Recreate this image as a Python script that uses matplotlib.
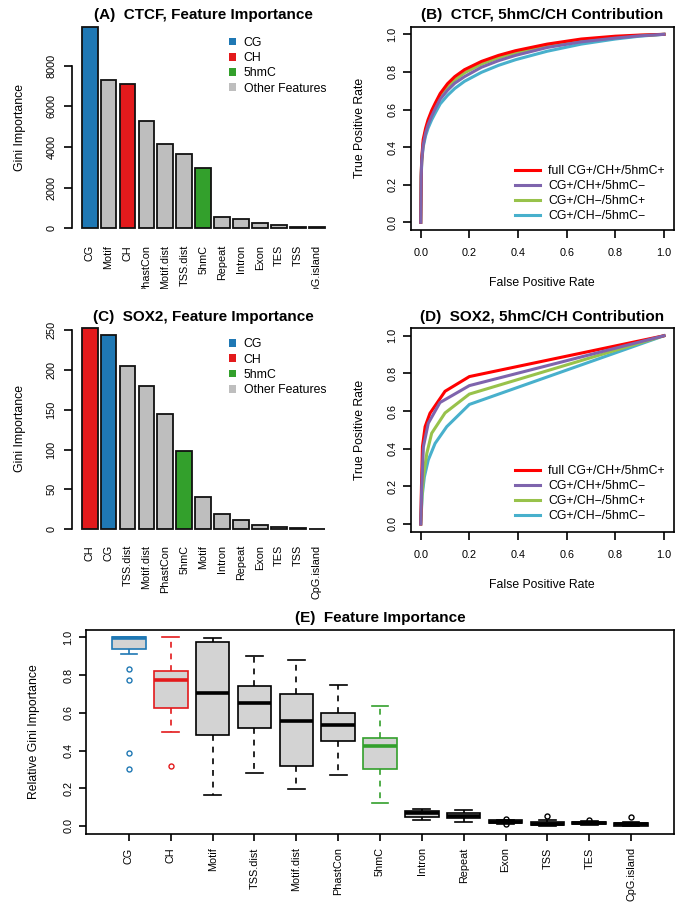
import numpy as np
import matplotlib
matplotlib.use("Agg")
import matplotlib.pyplot as plt
from matplotlib.patches import Patch, Rectangle
from matplotlib.lines import Line2D
from matplotlib.transforms import Affine2D

plt.rcParams["font.family"] = ["Liberation Sans", "DejaVu Sans"]

# ---------------------------------------------------------
# DATA
# ---------------------------------------------------------
ctcf_features = ["CG", "Motif", "CH", "PhastCon", "Motif.dist", "TSS.dist", "5hmC",
                 "Repeat", "Intron", "Exon", "TES", "TSS", "CpG.island"]
ctcf_gini = [9920, 7280, 7100, 5280, 4130, 3670, 2980, 556, 458, 276, 148, 79, 49]

sox2_features = ["CH", "CG", "TSS.dist", "Motif.dist", "PhastCon", "5hmC", "Motif",
                 "Intron", "Repeat", "Exon", "TES", "TSS", "CpG.island"]
sox2_gini = [252.1, 243.7, 205.2, 180.0, 144.6, 98.2, 40.5, 18.8, 11.7, 5.0, 2.9, 1.7, 0.6]

roc_labels = ["full CG+/CH+/5hmC+", "CG+/CH+/5hmC\u2212", "CG+/CH\u2212/5hmC+", "CG+/CH\u2212/5hmC\u2212"]
roc_colors = ["#ff0000", "#7e64ad", "#98c24b", "#48b0cc"]

# CTCF ROC (smooth curves)
ctcf_fpr = [0, 0.002, 0.004, 0.01, 0.02, 0.03, 0.045, 0.06, 0.08, 0.11, 0.14, 0.18,
            0.25, 0.32, 0.39, 0.52, 0.66, 0.8, 0.9, 1.0]
ctcf_tpr_full = [0, 0.25, 0.34, 0.44, 0.50, 0.545, 0.595, 0.635, 0.685, 0.737, 0.775, 0.812,
                 0.856, 0.888, 0.913, 0.948, 0.975, 0.99, 0.996, 1.0]
ctcf_tpr_no5hmc = [0, 0.24, 0.33, 0.41, 0.475, 0.518, 0.565, 0.605, 0.655, 0.702, 0.74, 0.775,
                   0.825, 0.86, 0.888, 0.93, 0.96, 0.98, 0.992, 1.0]
ctcf_tpr_noch = [0, 0.24, 0.33, 0.42, 0.485, 0.532, 0.58, 0.62, 0.67, 0.718, 0.757, 0.795,
                 0.842, 0.875, 0.902, 0.94, 0.968, 0.985, 0.994, 1.0]
ctcf_tpr_none = [0, 0.23, 0.32, 0.40, 0.46, 0.50, 0.545, 0.582, 0.63, 0.675, 0.712, 0.75,
                 0.798, 0.835, 0.865, 0.91, 0.948, 0.975, 0.99, 1.0]

# SOX2 ROC (piecewise)
sox2_fpr_full = [0, 0.003, 0.007, 0.018, 0.038, 0.1, 0.2, 1.0]
sox2_tpr_full = [0, 0.2, 0.41, 0.517, 0.588, 0.705, 0.783, 1.0]
sox2_fpr_no5hmc = [0, 0.004, 0.011, 0.031, 0.079, 0.2, 1.0]
sox2_tpr_no5hmc = [0, 0.2, 0.41, 0.535, 0.645, 0.735, 1.0]
sox2_fpr_noch = [0, 0.005, 0.011, 0.025, 0.045, 0.1, 0.2, 1.0]
sox2_tpr_noch = [0, 0.15, 0.25, 0.375, 0.482, 0.59, 0.69, 1.0]
sox2_fpr_none = [0, 0.006, 0.015, 0.031, 0.059, 0.107, 0.2, 1.0]
sox2_tpr_none = [0, 0.15, 0.25, 0.34, 0.428, 0.517, 0.635, 1.0]

# Relative Gini importance boxplot (E)
box_features = ["CG", "CH", "Motif", "TSS.dist", "Motif.dist", "PhastCon", "5hmC",
                "Intron", "Repeat", "Exon", "TSS", "TES", "CpG.island"]
box_med = [0.995, 0.774, 0.703, 0.653, 0.556, 0.534, 0.424, 0.067, 0.055, 0.022, 0.012, 0.015, 0.008]
box_q1 = [0.936, 0.624, 0.484, 0.521, 0.316, 0.452, 0.302, 0.049, 0.042, 0.015, 0.005, 0.008, 0.002]
box_q3 = [1.0, 0.82, 0.975, 0.743, 0.698, 0.600, 0.465, 0.081, 0.067, 0.030, 0.020, 0.022, 0.014]
box_lo = [0.91, 0.497, 0.164, 0.279, 0.198, 0.270, 0.120, 0.033, 0.020, 0.013, 0.002, 0.004, 0.0]
box_hi = [1.0, 1.0, 0.998, 0.899, 0.878, 0.747, 0.638, 0.090, 0.085, 0.032, 0.030, 0.026, 0.020]
box_out = [[0.832, 0.774, 0.385, 0.30], [0.318], [], [], [], [], [], [], [],
           [0.036, 0.008], [0.053], [0.034], [0.048]]

group_colors = {"CG": "#1f78b4", "CH": "#e31a1c", "5hmC": "#33a02c"}
other_color = "#bebebe"

# ---------------------------------------------------------
# FIGURE (pixel layout helpers)
# ---------------------------------------------------------
W, H = 684, 902
fig = plt.figure(figsize=(W / 100, H / 100), dpi=100)
px = Affine2D().scale(1 / W, -1 / H).translate(0, 1) + fig.transFigure


def add_ax(l, t, r, b):
    return fig.add_axes([l / W, 1 - b / H, (r - l) / W, (b - t) / H])


TICK = 8
LW = 1.2
fs_tick = 7.8
fs_lab = 8.8
fs_title = 11


def bar_panel(rect, title, title_xy, feats, vals, yticks, label_pad):
    ax = add_ax(*rect)
    x = 0.7 + 1.2 * np.arange(len(vals))
    cols = [group_colors.get(f, other_color) for f in feats]
    ax.bar(x, vals, width=1, color=cols, edgecolor="#111111", linewidth=1.3, clip_on=False)
    lo, hi = x[0] - 0.5, x[-1] + 0.5
    ax.set_xlim(lo - 0.04 * (hi - lo), hi + 0.04 * (hi - lo))
    ax.set_ylim(0, max(vals))
    for s in ["top", "right", "bottom"]:
        ax.spines[s].set_visible(False)
    ax.spines["left"].set_bounds(yticks[0], yticks[-1])
    ax.spines["left"].set_linewidth(LW)
    ax.set_yticks(yticks)
    ax.set_yticklabels([str(v) for v in yticks], rotation=90, va="center")
    ax.tick_params(axis="y", length=TICK * 0.72, width=LW, labelsize=fs_tick, pad=5.5)
    ax.set_xticks(x)
    ax.set_xticklabels(feats, rotation=90, va="top", ha="center")
    ax.tick_params(axis="x", length=0, labelsize=fs_tick, pad=label_pad)
    ax.set_ylabel("Gini Importance", fontsize=fs_lab)
    ax.yaxis.set_label_coords(20, (rect[1] + rect[3]) / 2, transform=px)
    ax.yaxis.label.set_va("center")
    ax.text(*title_xy, title, transform=px, ha="center", va="center",
            fontsize=fs_title, fontweight="bold")
    handles = [Patch(facecolor=c, edgecolor="none") for c in
               [group_colors["CG"], group_colors["CH"], group_colors["5hmC"], other_color]]
    ax.legend(handles, ["CG", "CH", "5hmC", "Other Features"], loc="upper left",
              bbox_to_anchor=(229, rect[1] + 10), bbox_transform=px, frameon=False,
              fontsize=fs_lab, handlelength=0.6, handleheight=0.6, handletextpad=0.6,
              labelspacing=0.27, borderpad=0, borderaxespad=0)
    return ax


def roc_panel(rect, title, title_xy, curves, leg_top):
    ax = add_ax(*rect)
    order = [3, 2, 0, 1]
    for i in order:
        f, t = curves[i]
        ax.plot(f, t, color=roc_colors[i], lw=2.2, solid_joinstyle="miter")
    ax.set_xlim(-0.04, 1.04)
    ax.set_ylim(-0.04, 1.04)
    for s in ax.spines.values():
        s.set_linewidth(LW)
    ticks = [0, 0.2, 0.4, 0.6, 0.8, 1.0]
    ax.set_xticks(ticks)
    ax.set_xticklabels([f"{v:.1f}" for v in ticks])
    ax.set_yticks(ticks)
    ax.set_yticklabels([f"{v:.1f}" for v in ticks], rotation=90, va="center")
    ax.tick_params(axis="x", length=TICK * 0.72, width=LW, labelsize=fs_tick, pad=7.5)
    ax.tick_params(axis="y", length=TICK * 0.72, width=LW, labelsize=fs_tick, pad=4)
    ax.set_xlabel("False Positive Rate", fontsize=fs_lab)
    ax.xaxis.set_label_coords(542, title_xy[1] + 268, transform=px)
    ax.xaxis.label.set_va("center")
    ax.set_ylabel("True Positive Rate", fontsize=fs_lab)
    ax.yaxis.set_label_coords(360, (rect[1] + rect[3]) / 2, transform=px)
    ax.yaxis.label.set_va("center")
    ax.text(*title_xy, title, transform=px, ha="center", va="center",
            fontsize=fs_title, fontweight="bold")
    handles = [Line2D([], [], color=c, lw=2.2) for c in roc_colors]
    ax.legend(handles, roc_labels, loc="upper left", bbox_to_anchor=(515, leg_top),
              bbox_transform=px, frameon=False, fontsize=fs_lab, handlelength=2.05,
              handletextpad=0.65, labelspacing=0.24, borderpad=0, borderaxespad=0)
    return ax


# (A)
bar_panel((72, 26.7, 334.5, 228.3), "(A)  CTCF, Feature Importance", (203, 15),
          ctcf_features, ctcf_gini, [0, 2000, 4000, 6000, 8000], 12)
# (C)
bar_panel((72, 328.3, 334.5, 529.3), "(C)  SOX2, Feature Importance", (203, 317),
          sox2_features, sox2_gini, [0, 50, 100, 150, 200, 250], 11.3)

# (B)
roc_panel((411, 26.8, 673.7, 229.8), "(B)  CTCF, 5hmC/CH Contribution", (542, 15),
          [(ctcf_fpr, ctcf_tpr_full), (ctcf_fpr, ctcf_tpr_no5hmc),
           (ctcf_fpr, ctcf_tpr_noch), (ctcf_fpr, ctcf_tpr_none)], 165)
# (D)
roc_panel((411, 328.2, 673.7, 531.5), "(D)  SOX2, 5hmC/CH Contribution", (542, 317),
          [(sox2_fpr_full, sox2_tpr_full), (sox2_fpr_no5hmc, sox2_tpr_no5hmc),
           (sox2_fpr_noch, sox2_tpr_noch), (sox2_fpr_none, sox2_tpr_none)], 465)

# (E)
axE = add_ax(86.3, 629.8, 673.7, 833.5)
stats = []
for i, f in enumerate(box_features):
    stats.append(dict(med=box_med[i], q1=box_q1[i], q3=box_q3[i],
                      whislo=box_lo[i], whishi=box_hi[i], fliers=box_out[i], label=f))
pos = np.arange(1, len(box_features) + 1)
bp = axE.bxp(stats, positions=pos, widths=0.8, capwidths=0.4, patch_artist=True,
             showfliers=True)
for i, f in enumerate(box_features):
    c = group_colors.get(f, "black")
    bp["boxes"][i].set(facecolor="#d3d3d3", edgecolor=c, linewidth=1.2)
    bp["medians"][i].set(color=c, linewidth=2.6, solid_capstyle="butt")
    for w in bp["whiskers"][2 * i:2 * i + 2]:
        w.set(color=c, linewidth=1.2, linestyle=(0, (3.5, 3.5)))
    for cap in bp["caps"][2 * i:2 * i + 2]:
        cap.set(color=c, linewidth=1.2)
    bp["fliers"][i].set(marker="o", markerfacecolor="none", markeredgecolor=c,
                        markersize=3.6, markeredgewidth=1.0)
axE.set_xlim(0.5 - 0.04 * 13, 13.5 + 0.04 * 13)
axE.set_ylim(-0.04, 1.04)
for s in axE.spines.values():
    s.set_linewidth(LW)
yt = [0, 0.2, 0.4, 0.6, 0.8, 1.0]
axE.set_yticks(yt)
axE.set_yticklabels([f"{v:.1f}" for v in yt], rotation=90, va="center")
axE.set_xticks(pos)
axE.set_xticklabels(box_features, rotation=90, va="top", ha="center")
axE.tick_params(axis="x", length=7.3 * 0.72, width=LW, labelsize=fs_tick, pad=4.7)
axE.tick_params(axis="y", length=7.3 * 0.72, width=LW, labelsize=fs_tick, pad=4.1)
axE.set_ylabel("Relative Gini Importance", fontsize=fs_lab)
axE.yaxis.set_label_coords(34, 731.7, transform=px)
axE.yaxis.label.set_va("center")
axE.text(380, 618, "(E)  Feature Importance", transform=px, ha="center", va="center",
         fontsize=fs_title, fontweight="bold")

# panel A labels are cut at the panel edge in the original
fig.add_artist(Rectangle((0, 289), 340, 16, transform=px, facecolor="white",
                         edgecolor="none", zorder=10))

fig.savefig("out.png", dpi=100)
